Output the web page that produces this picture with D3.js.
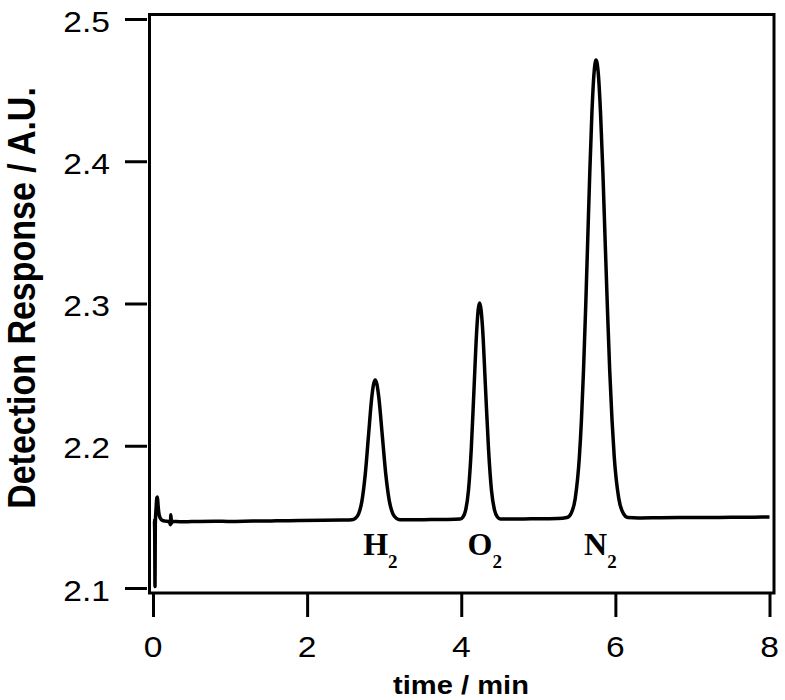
<!DOCTYPE html>
<html>
<head>
<meta charset="utf-8">
<script src="https://cdn.jsdelivr.net/npm/d3@7"></script>
<style>
  html, body { margin: 0; padding: 0; background: #fff; }
  svg { display: block; }
</style>
</head>
<body>
<svg id="chart" width="785" height="700"></svg>
<script>
// ---------- data ----------
const xTicks = [0, 2, 4, 6, 8];
const xTickLabels = ["0", "2", "4", "6", "8"];
const yTicks = [2.1, 2.2, 2.3, 2.4, 2.5];
const yTickLabels = ["2.1", "2.2", "2.3", "2.4", "2.5"];

// [time (min), response (A.U.)]
const segStart = [
  [0.000, 2.1472], [0.018, 2.1470], [0.022, 2.1400], [0.026, 2.1010], [0.030, 2.1450],
  [0.040, 2.1560], [0.050, 2.1635], [0.058, 2.1640], [0.066, 2.1580], [0.078, 2.1520],
  [0.095, 2.1490], [0.120, 2.1475], [0.160, 2.1470], [0.200, 2.1468], [0.215, 2.1462],
  [0.225, 2.1445], [0.232, 2.1515], [0.240, 2.1455], [0.250, 2.1468], [0.350, 2.1466],
  [0.500, 2.1467], [0.800, 2.1469], [1.000, 2.1468], [1.300, 2.1471], [1.600, 2.1472],
  [1.900, 2.1474], [2.200, 2.1476], [2.450, 2.1478]
];
const segH2 = [
  [2.582, 2.1480], [2.625, 2.1489], [2.668, 2.1521], [2.711, 2.1611], [2.754, 2.1798],
  [2.797, 2.2075], [2.840, 2.2346], [2.862, 2.2432], [2.883, 2.2462], [2.906, 2.2432],
  [2.929, 2.2346], [2.975, 2.2075], [3.021, 2.1798], [3.067, 2.1611], [3.113, 2.1521],
  [3.159, 2.1489], [3.205, 2.1480]
];
const segMid1 = [[3.400, 2.1479], [3.600, 2.1481], [3.800, 2.1482]];
const segO2 = [
  [3.986, 2.1485], [4.022, 2.1499], [4.058, 2.1549], [4.094, 2.1688], [4.130, 2.1976],
  [4.166, 2.2404], [4.202, 2.2824], [4.220, 2.2956], [4.238, 2.3003], [4.257, 2.2956],
  [4.277, 2.2824], [4.315, 2.2404], [4.354, 2.1976], [4.392, 2.1688], [4.431, 2.1549],
  [4.469, 2.1499], [4.508, 2.1485]
];
const segMid2 = [[4.700, 2.1485], [4.900, 2.1486], [5.100, 2.1487], [5.250, 2.1488]];
const segN2 = [
  [5.371, 2.1495], [5.425, 2.1524], [5.479, 2.1630], [5.533, 2.1924], [5.560, 2.2185],
  [5.587, 2.2535], [5.614, 2.2964], [5.641, 2.3443], [5.668, 2.3921], [5.695, 2.4333],
  [5.722, 2.4613], [5.749, 2.4712], [5.779, 2.4613], [5.808, 2.4333], [5.838, 2.3921],
  [5.867, 2.3443], [5.897, 2.2964], [5.926, 2.2535], [5.956, 2.2185], [5.985, 2.1924],
  [6.044, 2.1630], [6.103, 2.1524], [6.162, 2.1495]
];
const segEnd = [
  [6.300, 2.1492], [6.600, 2.1494], [6.900, 2.1495], [7.200, 2.1496], [7.500, 2.1497],
  [7.800, 2.1498], [8.000, 2.1499]
];

const peakNames = ["H", "O", "N"];
const peakSubs = ["2", "2", "2"];
const peakTimes = [2.883, 4.238, 5.749];

// ---------- drawing ----------
const trace = [].concat(segStart, segH2, segMid1, segO2, segMid2, segN2, segEnd);

const svg = d3.select("#chart");
const sx = 1.12; // horizontal stretch of the reference lettering

const x = d3.scaleLinear().domain([0, 8]).range([153, 769.5]);
const y = d3.scaleLinear().domain([2.1, 2.5]).range([588, 19]);

// frame
svg.append("rect")
  .attr("x", 149.5).attr("y", 14.5)
  .attr("width", 774 - 149.5).attr("height", 593 - 14.5)
  .attr("fill", "none").attr("stroke", "#000").attr("stroke-width", 3);

// y axis ticks
const yAxis = d3.axisLeft(y).tickValues(yTicks).tickSize(22).tickFormat("");
const gy = svg.append("g").attr("transform", "translate(147,0)").call(yAxis);
gy.select(".domain").remove();
gy.selectAll(".tick line").attr("stroke", "#000").attr("stroke-width", 3);

svg.append("g").selectAll("text")
  .data(yTicks)
  .join("text")
  .attr("transform", d => `translate(110,${y(d) + 12.5}) scale(${sx},1)`)
  .attr("text-anchor", "end")
  .attr("font-family", "Liberation Sans, Arial, sans-serif")
  .attr("font-size", 30)
  .attr("fill", "#000")
  .text((d, i) => yTickLabels[i]);

// x axis ticks
const xAxis = d3.axisBottom(x).tickValues(xTicks).tickSize(23).tickFormat("");
const gx = svg.append("g").attr("transform", "translate(0,594)").call(xAxis);
gx.select(".domain").remove();
gx.selectAll(".tick line").attr("stroke", "#000").attr("stroke-width", 3);

svg.append("g").selectAll("text")
  .data(xTicks)
  .join("text")
  .attr("transform", d => `translate(${x(d)},657) scale(${sx},1)`)
  .attr("text-anchor", "middle")
  .attr("font-family", "Liberation Sans, Arial, sans-serif")
  .attr("font-size", 30)
  .attr("fill", "#000")
  .text((d, i) => xTickLabels[i]);

// axis titles
svg.append("text")
  .attr("transform", `translate(461,694) scale(${sx},1)`)
  .attr("text-anchor", "middle")
  .attr("font-family", "Liberation Sans, Arial, sans-serif")
  .attr("font-weight", "bold")
  .attr("font-size", 26)
  .attr("fill", "#000")
  .text("time / min");

svg.append("text")
  .attr("transform", `translate(35,298) rotate(-90) scale(1,${sx})`)
  .attr("text-anchor", "middle")
  .attr("font-family", "Liberation Sans, Arial, sans-serif")
  .attr("font-weight", "bold")
  .attr("font-size", 34)
  .attr("fill", "#000")
  .text("Detection Response / A.U.");

// trace
const line = d3.line()
  .x(d => x(d[0]))
  .y(d => y(d[1]))
  .curve(d3.curveMonotoneX);

svg.append("path")
  .datum(trace)
  .attr("d", line)
  .attr("fill", "none")
  .attr("stroke", "#000")
  .attr("stroke-width", 3.5)
  .attr("stroke-linejoin", "round");

// peak labels
const labels = svg.append("g").selectAll("text")
  .data(peakTimes)
  .join("text")
  .attr("x", d => x(d) - 12)
  .attr("y", 555)
  .attr("text-anchor", "start")
  .attr("font-family", "Liberation Serif, Times New Roman, serif")
  .attr("font-weight", "bold")
  .attr("font-size", 32)
  .attr("fill", "#000");
labels.append("tspan").text((d, i) => peakNames[i]);
labels.append("tspan").attr("font-size", 19).attr("dy", 13).text((d, i) => peakSubs[i]);
</script>
</body>
</html>
